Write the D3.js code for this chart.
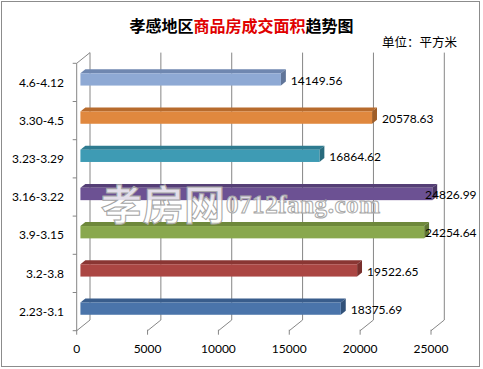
<!DOCTYPE html>
<html>
<head>
<meta charset="utf-8">
<script src="https://cdn.jsdelivr.net/npm/d3@7"></script>
<style>
  body { margin: 0; background: #fff; }
  text { font-family: Lato, "Noto Sans", sans-serif; }
</style>
</head>
<body>
<div id="chart"></div>
<script>
"use strict";

// categories bottom -> top
const weeks = ["2.23-3.1", "3.2-3.8", "3.9-3.15", "3.16-3.22", "3.23-3.29", "3.30-4.5", "4.6-4.12"];
const areas = [18375.69, 19522.65, 24254.64, 24826.99, 16864.62, 20578.63, 14149.56];
const xTicks = [0, 5000, 10000, 15000, 20000, 25000];
const faceColors = ["#4a74aa", "#ab4643", "#89a84d", "#6c5193", "#3e9bb4", "#e0883e", "#8ea9d4"];
const topColors = ["#395d8c", "#8a3633", "#6e883b", "#553f76", "#2e7b90", "#b76b2d", "#6f87b0"];

const msm = {
    width: 483,
    height: 369,
    left: 76.7,
    right: 431,
    top: 63.3,
    bottom: 330.7,
    depthX: 13.3,
    depthY: -10.7
}

let svg = d3.select("#chart").append("svg")
    .attr("width", msm.width)
    .attr("height", msm.height);

// outer frame
svg.append("rect")
    .attr("x", 1.5).attr("y", 1.5)
    .attr("width", 478).attr("height", 365)
    .attr("fill", "#fff")
    .attr("stroke", "#8c8c8c");

let xScale = d3.scaleLinear()
    .domain([0, 25000])
    .range([msm.left, msm.right]);

let yScale = d3.scaleBand()
    .domain(weeks)
    .range([msm.bottom, msm.top]);

// helper: point pushed back by depth d (0 = front, 1 = back wall)
function pt(x, y, d) {
    return [x + d * msm.depthX, y + d * msm.depthY];
}

let grid = svg.append("g").attr("stroke", "#868686").attr("stroke-width", 1).attr("fill", "none");

// back wall gridlines + floor diagonals
xTicks.forEach(t => {
    let x = xScale(t);
    let b0 = pt(x, msm.top, 1), b1 = pt(x, msm.bottom, 1);
    grid.append("line")
        .attr("x1", b0[0]).attr("y1", b0[1])
        .attr("x2", b1[0]).attr("y2", b1[1]);
    grid.append("line")
        .attr("x1", x).attr("y1", msm.bottom)
        .attr("x2", b1[0]).attr("y2", b1[1]);
    // small tick below the floor edge
    grid.append("line")
        .attr("x1", x).attr("y1", msm.bottom - 1)
        .attr("x2", x).attr("y2", msm.bottom + 4);
});

// left wall front edge + top edge
grid.append("line")
    .attr("x1", msm.left).attr("y1", msm.top)
    .attr("x2", msm.left).attr("y2", msm.bottom);
let tl = pt(msm.left, msm.top, 1);
grid.append("line")
    .attr("x1", msm.left).attr("y1", msm.top)
    .attr("x2", tl[0]).attr("y2", tl[1]);

// category ticks on the left
let bounds = weeks.map(w => yScale(w)).concat([msm.bottom]);
bounds.forEach(y => {
    grid.append("line")
        .attr("x1", msm.left - 4).attr("y1", y)
        .attr("x2", msm.left).attr("y2", y);
});

// bars
const d1 = 0.28, d2 = 0.65;
let barH = yScale.bandwidth() / 3.1;

let bars = svg.append("g");
weeks.forEach((w, i) => {
    let c = yScale(w) + yScale.bandwidth() / 2;
    let x0 = xScale(0), x1 = xScale(areas[i]);
    let yt = c - barH / 2, yb = c + barH / 2;

    let ftl = pt(x0, yt, d1), ftr = pt(x1, yt, d1), fbr = pt(x1, yb, d1);
    let btl = pt(x0, yt, d2), btr = pt(x1, yt, d2), bbr = pt(x1, yb, d2);

    // top face
    bars.append("polygon")
        .attr("points", [ftl, ftr, btr, btl].map(p => p.join(",")).join(" "))
        .attr("fill", topColors[i]);
    // right end face
    bars.append("polygon")
        .attr("points", [ftr, btr, bbr, fbr].map(p => p.join(",")).join(" "))
        .attr("fill", d3.color(topColors[i]).darker(0.4));
    // front face
    bars.append("rect")
        .attr("x", ftl[0]).attr("y", ftl[1])
        .attr("width", ftr[0] - ftl[0])
        .attr("height", barH)
        .attr("fill", faceColors[i]);

    // value label, kept inside the frame
    let lx = Math.min(btr[0] + 5, 425);
    bars.append("text")
        .attr("x", lx)
        .attr("y", c - 2)
        .attr("dy", "0.35em")
        .style("font-size", "12px")
        .attr("fill", "#000")
        .text(d3.format(".2f")(areas[i]));
});

// category labels
svg.append("g").selectAll("text")
    .data(weeks)
    .enter()
    .append("text")
    .attr("x", 64)
    .attr("y", d => yScale(d) + yScale.bandwidth() / 2)
    .attr("dy", "0.35em")
    .attr("text-anchor", "end")
    .style("font-size", "12px")
    .text(d => d);

// x tick labels
svg.append("g").selectAll("text")
    .data(xTicks)
    .enter()
    .append("text")
    .attr("x", d => xScale(d))
    .attr("y", 348.5)
    .attr("dy", "0.35em")
    .attr("text-anchor", "middle")
    .style("font-size", "12px")
    .text(d => d);

// title
let title = svg.append("text")
    .attr("x", 241.5)
    .attr("y", 32)
    .attr("text-anchor", "middle")
    .style("font-family", "'Noto Sans CJK SC', sans-serif")
    .style("font-size", "16px")
    .style("font-weight", "bold");
title.append("tspan").text("孝感地区");
title.append("tspan").attr("fill", "#e00000").text("商品房成交面积");
title.append("tspan").text("趋势图");

svg.append("text")
    .attr("x", 457)
    .attr("y", 47)
    .attr("text-anchor", "end")
    .style("font-family", "'Noto Sans CJK SC', sans-serif")
    .style("font-size", "12.5px")
    .text("单位：平方米");

// watermark
svg.append("text")
    .attr("x", 101)
    .attr("y", 220)
    .attr("textLength", 124)
    .style("font-family", "'Noto Sans CJK SC', sans-serif")
    .style("font-size", "41px")
    .style("font-weight", "bold")
    .attr("fill", "#fff")
    .attr("fill-opacity", 0.82)
    .attr("stroke", "#a4a4a4")
    .attr("stroke-width", 1)
    .text("孝房网");

svg.append("text")
    .attr("x", 226)
    .attr("y", 213)
    .attr("textLength", 154)
    .style("font-family", "'Liberation Serif', serif")
    .style("font-size", "25px")
    .style("font-weight", "bold")
    .attr("fill", "#fff")
    .attr("fill-opacity", 0.8)
    .attr("stroke", "#a8a8a8")
    .attr("stroke-width", 1)
    .text("0712fang.com");
</script>
</body>
</html>
